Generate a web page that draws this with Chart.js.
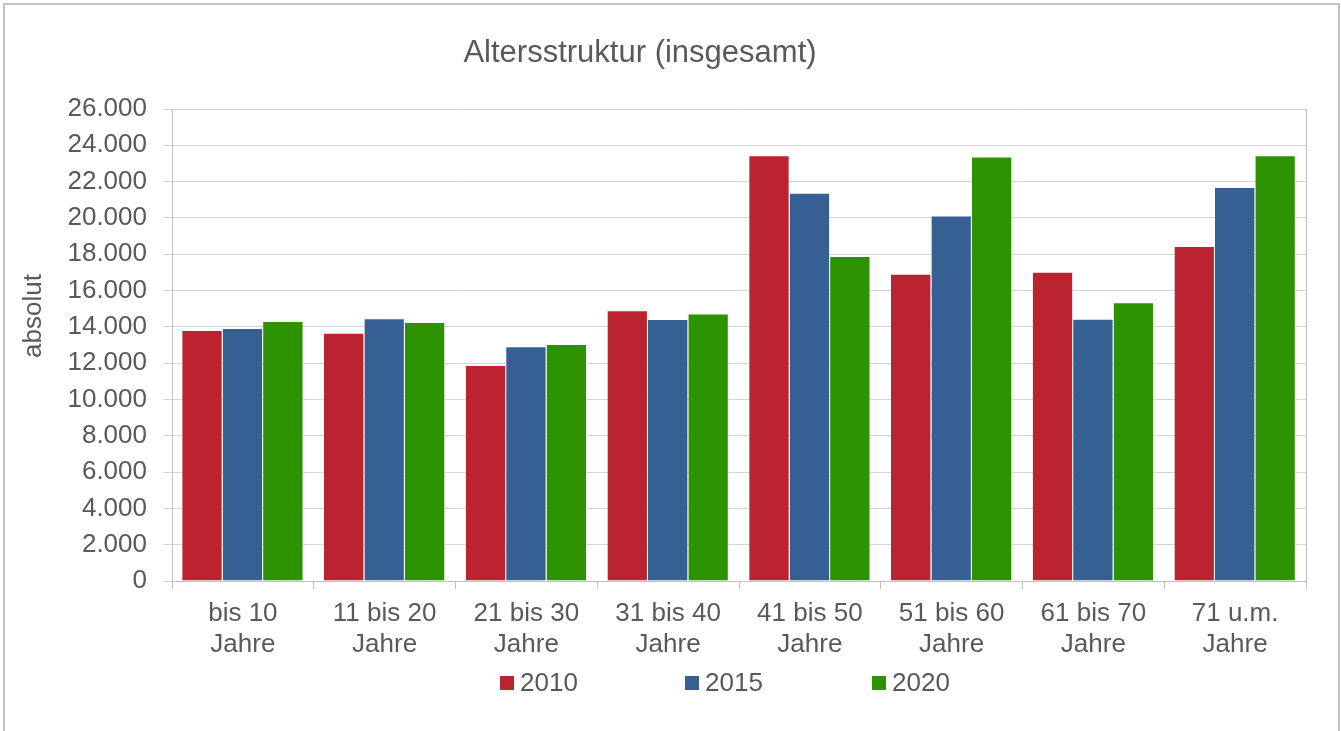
<!DOCTYPE html>
<html>
<head>
<meta charset="utf-8">
<script src="https://cdn.jsdelivr.net/npm/chart.js@4.4.0/dist/chart.umd.min.js"></script>
<style>
html,body{margin:0;padding:0;background:#fff;overflow:hidden;width:1341px;height:731px;}
#frame{position:absolute;left:3px;top:3px;width:1333px;height:800px;border:2px solid #c3c3c3;}
#wrap{position:absolute;left:0;top:0;width:1341px;height:731px;}
</style>
</head>
<body>
<div id="frame"></div>
<div id="wrap"><canvas id="c" width="1341" height="731"></canvas></div>
<script>
// ---- data ----
const categories = [
  ['bis 10', 'Jahre'],
  ['11 bis 20', 'Jahre'],
  ['21 bis 30', 'Jahre'],
  ['31 bis 40', 'Jahre'],
  ['41 bis 50', 'Jahre'],
  ['51 bis 60', 'Jahre'],
  ['61 bis 70', 'Jahre'],
  ['71 u.m.', 'Jahre']
];
const seriesLabels = ['2010', '2015', '2020'];
const values2010 = [13830, 13680, 11900, 14910, 23450, 16930, 17040, 18450];
const values2015 = [13940, 14470, 12930, 14430, 21390, 20140, 14450, 21700];
const values2020 = [14320, 14270, 13050, 14730, 17900, 23390, 15350, 23450];
const yMin = 0, yMax = 26000, yStep = 2000;
const titleText = 'Altersstruktur (insgesamt)';
const yTitleText = 'absolut';

// ---- style ----
const FONT = "'Liberation Sans', Arial, sans-serif";
const TEXT = '#595959';
const colors = ['#BB2331', '#366092', '#2C9200'];

const fmt = v => String(v).replace(/\B(?=(\d{3})+(?!\d))/g, '.');

const deco = {
  id: 'deco',
  beforeDatasetsDraw(chart) {
    const {ctx, chartArea} = chart;
    ctx.save();
    ctx.strokeStyle = '#bfbfbf';
    ctx.lineWidth = 1;
    ctx.beginPath();
    ctx.moveTo(Math.round(chartArea.right) + 0.5, chartArea.top);
    ctx.lineTo(Math.round(chartArea.right) + 0.5, chartArea.bottom);
    ctx.stroke();
    ctx.restore();
  },
  afterDraw(chart) {
    const ctx = chart.ctx;
    ctx.save();
    ctx.fillStyle = TEXT;
    ctx.textBaseline = 'middle';
    ctx.textAlign = 'center';
    ctx.font = '31px ' + FONT;
    ctx.fillText(titleText, 640, 53);

    ctx.save();
    ctx.translate(34, 316);
    ctx.rotate(-Math.PI / 2);
    ctx.font = '26px ' + FONT;
    ctx.fillText(yTitleText, 0, 0);
    ctx.restore();

    // legend
    const xs = [500, 685, 872];
    ctx.font = '26px ' + FONT;
    ctx.textAlign = 'left';
    chart.data.datasets.forEach((ds, i) => {
      ctx.fillStyle = ds.backgroundColor;
      ctx.fillRect(xs[i], 676, 14, 14);
      ctx.fillStyle = TEXT;
      ctx.fillText(ds.label, xs[i] + 20, 684);
    });
    ctx.restore();
  }
};

const seriesValues = [values2010, values2015, values2020];

new Chart(document.getElementById('c'), {
  type: 'bar',
  data: {
    labels: categories,
    datasets: seriesLabels.map((lab, i) => ({
      label: lab,
      data: seriesValues[i],
      backgroundColor: colors[i],
      borderColor: 'rgba(255,255,255,0.3)',
      borderWidth: { top: 1, right: 1, left: 0, bottom: 0 },
      borderSkipped: false,
      categoryPercentage: 0.856,
      barPercentage: 1.0
    }))
  },
  options: {
    responsive: false,
    animation: false,
    devicePixelRatio: 1,
    layout: { padding: { top: 109, right: 35, left: 0, bottom: 0 } },
    plugins: {
      legend: { display: false },
      title: { display: false },
      tooltip: { enabled: false }
    },
    scales: {
      x: {
        afterFit: s => { s.height = 150; },
        grid: {
          offset: true,
          drawOnChartArea: false,
          drawTicks: true,
          tickLength: 8,
          color: '#bfbfbf'
        },
        border: { color: '#bfbfbf' },
        ticks: {
          color: TEXT,
          font: { family: FONT, size: 26, lineHeight: 1.2 },
          padding: 9,
          maxRotation: 0,
          autoSkip: false
        }
      },
      y: {
        min: yMin,
        max: yMax,
        afterFit: s => { s.width = 172; },
        grid: { color: '#d4d4d4', tickLength: 9, drawTicks: true },
        border: { color: '#bfbfbf' },
        ticks: {
          stepSize: yStep,
          color: TEXT,
          font: { family: FONT, size: 26 },
          padding: 16,
          callback: v => fmt(v)
        }
      }
    }
  },
  plugins: [deco]
});
</script>
</body>
</html>
